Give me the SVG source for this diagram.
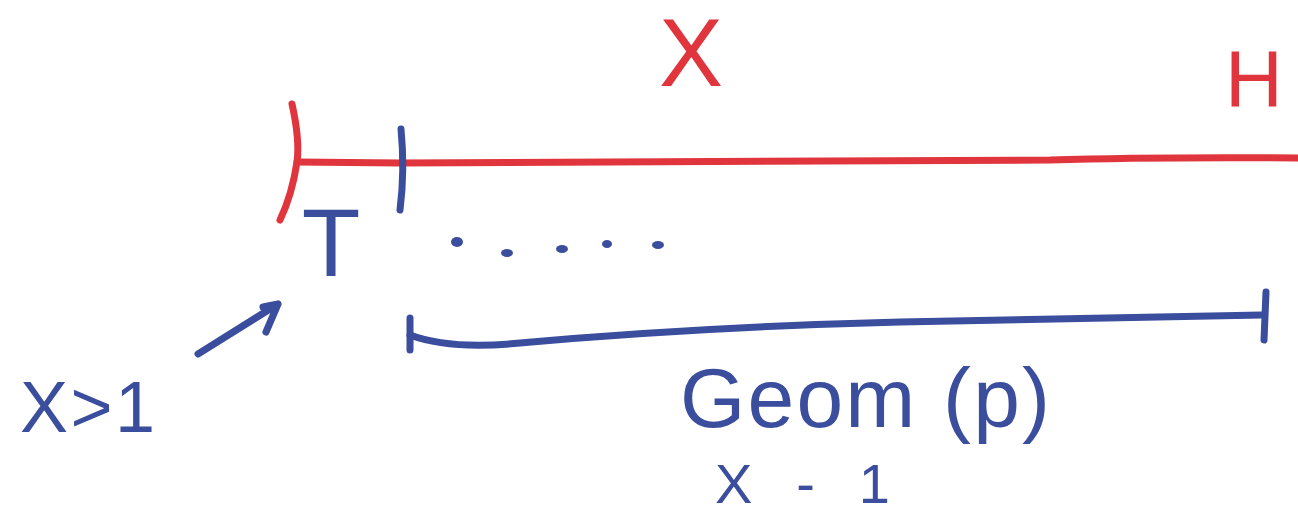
<svg xmlns="http://www.w3.org/2000/svg" width="1298" height="515" viewBox="0 0 1298 515">
<style>
.red{stroke:#e0353c;fill:none;stroke-width:7;stroke-linecap:round;stroke-linejoin:round}
.blue{stroke:#3b4e9e;fill:none;stroke-width:7;stroke-linecap:round;stroke-linejoin:round}
.rt{fill:#e0353c;font-family:"Liberation Sans",Arial,sans-serif}
.bt{fill:#3b4e9e;font-family:"Liberation Sans",Arial,sans-serif}
</style>
<rect width="1298" height="515" fill="#ffffff"/>
<g id="timeline-red">
<path class="red" d="M292,104 Q300,140 297,162 Q292,195 280,220"/>
<path class="red" d="M297,162 L400,163 Q800,162 1050,160 Q1150,157 1298,158"/>
<text class="rt" x="691" y="86" font-size="96" text-anchor="middle">X</text>
<text class="rt" x="1254" y="106" font-size="80" text-anchor="middle">H</text>
</g>
<g id="first-trial">
<path class="blue" d="M401,129 Q405,170 400,210" stroke-width="8"/>
<text class="bt" x="331" y="276" font-size="96" text-anchor="middle">T</text>
<g fill="#3b4e9e">
<ellipse cx="457" cy="242" rx="6" ry="5"/>
<ellipse cx="507" cy="253" rx="6" ry="4"/>
<ellipse cx="562" cy="249" rx="6" ry="4"/>
<ellipse cx="607" cy="244" rx="5" ry="4"/>
<ellipse cx="658" cy="245" rx="6" ry="4"/>
</g>
</g>
<g id="geom-bracket">
<path class="blue" d="M410,318 L410,350"/>
<path class="blue" d="M410,335 Q450,350 520,343 Q700,327 900,322 Q1100,318 1262,315"/>
<path class="blue" d="M1266,292 L1264,340"/>
<text class="bt" x="680" y="427" font-size="84" textLength="370" lengthAdjust="spacing">Geom (p)</text>
<text class="bt" x="715" y="503" font-size="56" textLength="175" lengthAdjust="spacing">X - 1</text>
</g>
<g id="annotation">
<path class="blue" d="M198,354 L278,304 M263,307 L278,304 L266,332"/>
<text class="bt" x="20" y="432" font-size="72" textLength="135" lengthAdjust="spacing">X&gt;1</text>
</g>
</svg>
